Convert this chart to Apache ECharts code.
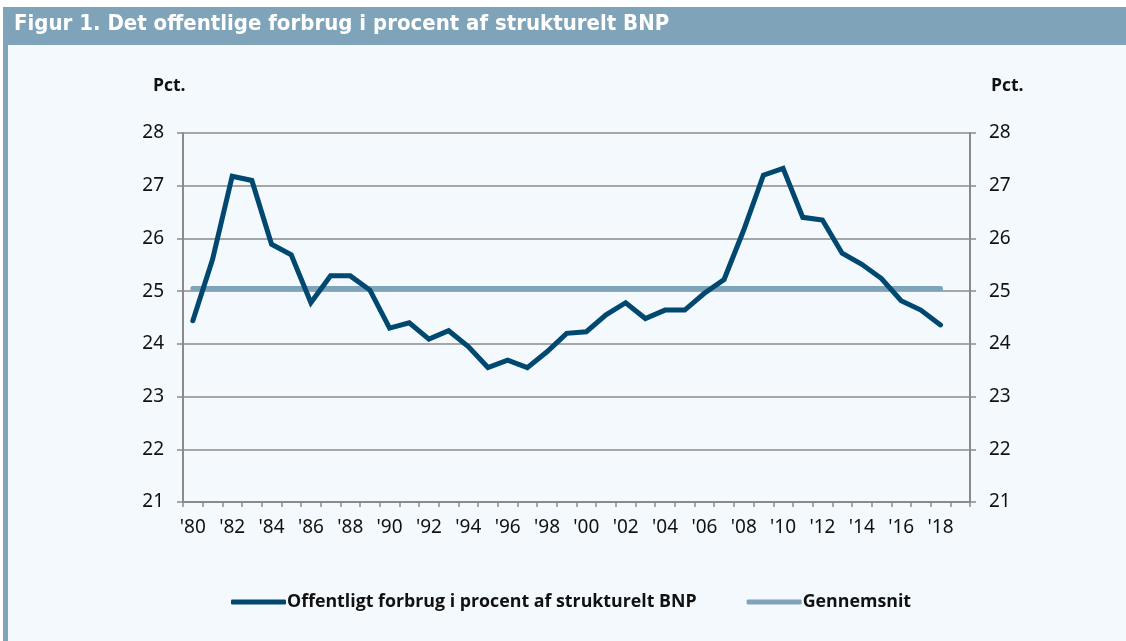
<!DOCTYPE html>
<html>
<head>
<meta charset="utf-8">
<script src="https://cdn.jsdelivr.net/npm/echarts@6/dist/echarts.min.js"></script>
<style>
html,body{margin:0;padding:0;background:#ffffff;}
#c{width:1126px;height:641px;}
</style>
</head>
<body>
<div id="c"></div>
<script>
const years = [];
for (let y = 1980; y <= 2019; y++) years.push(String(y));
const forbrug = [24.44, 25.6, 27.18, 27.10, 25.89, 25.69, 24.78, 25.29, 25.29, 25.02,
  24.30, 24.40, 24.09, 24.25, 23.95, 23.55, 23.69, 23.55, 23.85, 24.20,
  24.23, 24.55, 24.78, 24.48, 24.64, 24.64, 24.96, 25.22, 26.16, 27.20,
  27.33, 26.40, 26.35, 25.72, 25.51, 25.24, 24.82, 24.64, 24.36, null];
const gennemsnitValue = 25.05;
const gennemsnit = years.map((y, i) => i < 39 ? gennemsnitValue : null);
const yTicks = [21, 22, 23, 24, 25, 26, 27, 28];
const titleText = 'Figur 1. Det offentlige forbrug i procent af strukturelt BNP';
const seriesNames = ['Offentligt forbrug i procent af strukturelt BNP', 'Gennemsnit'];

const chart = echarts.init(document.getElementById('c'), null, {renderer: 'canvas'});
const axisFont = 'Noto Sans';
const boldFont = '"Open Sans", sans-serif';
const titleFont = '"DejaVu Sans Condensed", sans-serif';
const gray = '#8a8a8a';
chart.setOption({
  backgroundColor: '#ffffff',
  animation: false,
  graphic: [
    {type: 'rect', shape: {x: 3, y: 45, width: 1123, height: 596}, style: {fill: '#f3f9fd'}, z: -10},
    {type: 'rect', shape: {x: 3, y: 7, width: 1123, height: 38}, style: {fill: '#7fa3b9'}, z: -9},
    {type: 'rect', shape: {x: 3, y: 45, width: 5, height: 596}, style: {fill: '#7fa3b9'}, z: -9},
    {type: 'text', left: 14, top: 13, style: {text: titleText, fill: '#ffffff', font: 'bold 22px ' + titleFont}},
    {type: 'text', left: 153, top: 77, style: {text: 'Pct.', fill: '#111', font: 'bold 17.5px ' + boldFont}},
    {type: 'text', left: 991, top: 77, style: {text: 'Pct.', fill: '#111', font: 'bold 17.5px ' + boldFont}}
  ],
  grid: {left: 183, right: 156, top: 133, bottom: 139, containLabel: false},
  legend: {
    bottom: 25, left: 226,
    itemWidth: 55, itemHeight: 5, itemGap: 50,
    icon: 'roundRect',
    textStyle: {fontFamily: boldFont, fontWeight: 'bold', fontSize: 17.8, color: '#111', padding: [0, 0, 0, -4]},
    data: seriesNames
  },
  xAxis: {
    type: 'category', data: years, boundaryGap: true,
    axisLine: {lineStyle: {color: gray, width: 2}},
    axisTick: {show: true, interval: 0, length: 5, lineStyle: {color: gray, width: 1.5}},
    axisLabel: {interval: 1, fontFamily: axisFont, fontSize: 19, color: '#111', margin: 16,
      formatter: v => "'" + v.slice(2)},
    splitLine: {show: false}
  },
  yAxis: [
    {type: 'value', min: 21, max: 28, interval: 1, position: 'left',
      axisLine: {show: true, lineStyle: {color: gray, width: 2}},
      axisTick: {show: true, length: 6, lineStyle: {color: gray, width: 1.5}},
      axisLabel: {fontFamily: axisFont, fontSize: 19, color: '#111', margin: 19},
      splitLine: {show: true, lineStyle: {color: gray, width: 1.5}}},
    {type: 'value', min: 21, max: 28, interval: 1, position: 'right',
      axisLine: {show: true, lineStyle: {color: gray, width: 2}},
      axisTick: {show: true, length: 6, lineStyle: {color: gray, width: 1.5}},
      axisLabel: {fontFamily: axisFont, fontSize: 19, color: '#111', margin: 19},
      splitLine: {show: false}}
  ],
  series: [
    {name: seriesNames[1], type: 'line', data: gennemsnit, symbol: 'none', yAxisIndex: 0,
      lineStyle: {color: '#7fa3b9', width: 5, cap: 'round'}, itemStyle: {color: '#7fa3b9'}, z: 2},
    {name: seriesNames[0], type: 'line', data: forbrug, symbol: 'none', yAxisIndex: 0,
      lineStyle: {color: '#00486f', width: 5, cap: 'round', join: 'miter'}, itemStyle: {color: '#00486f'}, z: 3}
  ]
});
</script>
</body>
</html>
